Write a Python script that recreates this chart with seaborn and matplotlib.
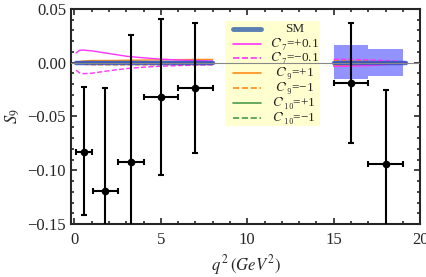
import numpy as np
import pandas as pd
import matplotlib
matplotlib.use("Agg")
import matplotlib.pyplot as plt
import seaborn as sns
from matplotlib.patches import Rectangle
from matplotlib.ticker import MultipleLocator

# --- data: experimental bins ---
q2_center = [0.55, 1.8, 3.25, 5.0, 7.0, 16.0, 18.0]
q2_half = [0.45, 0.7, 0.75, 1.0, 1.0, 1.0, 1.0]
s9_val = [-0.083, -0.119, -0.092, -0.032, -0.024, -0.019, -0.094]
s9_up = [0.060, 0.095, 0.118, 0.073, 0.061, 0.056, 0.069]
s9_dn = [0.059, 0.060, 0.060, 0.072, 0.060, 0.056, 0.060]

# --- SM binned prediction (boxes) ---
box_lo = [15.0, 17.0]
box_hi = [17.0, 19.0]
box_top = [0.016, 0.013]
box_bot = [-0.0155, -0.0125]

# --- theory curves, low q^2 ---
q2_low = [0.1, 0.3, 0.5, 1.0, 2.0, 3.0, 4.0, 5.0, 6.0, 7.0, 8.0]
sm_low = [0.0, 0.0, 0.0, 0.0, 0.0, 0.0, 0.0, 0.0, 0.0, 0.0, 0.0]
c7p_low = [0.009, 0.0115, 0.0117, 0.0110, 0.0085, 0.0060, 0.0045, 0.0033, 0.0025, 0.0020, 0.0015]
c7m_low = [-0.007, -0.0095, -0.0102, -0.0098, -0.0075, -0.0055, -0.0042, -0.0033, -0.0027, -0.0022, -0.0018]
c9p_low = [0.0005, 0.001, 0.0015, 0.002, 0.002, 0.0022, 0.0024, 0.0026, 0.0028, 0.003, 0.003]
c9m_low = [-0.0005, -0.001, -0.0015, -0.002, -0.002, -0.002, -0.002, -0.002, -0.002, -0.002, -0.002]
c10p_low = [0.0002, 0.0003, 0.0004, 0.0005, 0.0005, 0.0005, 0.0005, 0.0005, 0.0005, 0.0005, 0.0005]
c10m_low = [-0.0002, -0.0003, -0.0004, -0.0005, -0.0005, -0.0005, -0.0005, -0.0005, -0.0005, -0.0005, -0.0005]

# --- theory curves, high q^2 ---
q2_high = [15.0, 16.0, 17.0, 18.0, 18.7, 19.2]
sm_high = [0.0, 0.0, 0.0, 0.0, 0.0, 0.0]
c7p_high = [-0.0035, -0.0032, -0.0027, -0.0019, -0.0011, 0.0]
c7m_high = [0.0032, 0.0030, 0.0026, 0.0019, 0.0011, 0.0]
c9p_high = [-0.0025, -0.0023, -0.0019, -0.0013, -0.0008, 0.0]
c9m_high = [0.0022, 0.0020, 0.0017, 0.0012, 0.0007, 0.0]
c10p_high = [0.0003, 0.0003, 0.0002, 0.0002, 0.0001, 0.0]
c10m_high = [-0.0003, -0.0003, -0.0002, -0.0002, -0.0001, 0.0]

legend_labels = ['SM', "$C$\u2032\u2087=+0.1", "$C$\u2032\u2087=\u22120.1",
                 "$C$\u2032\u2089=+1", "$C$\u2032\u2089=\u22121",
                 "$C$\u2032\u2081\u2080=+1", "$C$\u2032\u2081\u2080=\u22121"]

sns.set_style("ticks")
plt.rcParams['font.family'] = ['Liberation Serif', 'DejaVu Serif']
plt.rcParams['mathtext.fontset'] = 'stix'

fig = plt.figure(figsize=(4.27, 2.77), dpi=100)
ax = fig.add_axes([0.166, 0.191, 0.818, 0.777])

# SM boxes
for lo, hi, top, bot in zip(box_lo, box_hi, box_top, box_bot):
    ax.fill_between([lo, hi], [bot, bot], [top, top], color='#6a6aff', alpha=0.72,
                    linewidth=0, zorder=1)

MAG, ORA, GRN, SMC = '#ff33ff', '#ff8c1a', '#4a9a4a', '#3050c8'
curves = [
    (c10p_low, c10p_high, GRN, '-'),
    (c10m_low, c10m_high, GRN, '--'),
    (c9p_low, c9p_high, ORA, '-'),
    (c9m_low, c9m_high, ORA, '--'),
    (c7p_low, c7p_high, MAG, '-'),
    (c7m_low, c7m_high, MAG, '--'),
]
for lo_vals, hi_vals, col, ls in curves:
    sns.lineplot(x=q2_low, y=lo_vals, ax=ax, color=col, linestyle=ls, linewidth=1.0, zorder=2)
    sns.lineplot(x=q2_high, y=hi_vals, ax=ax, color=col, linestyle=ls, linewidth=1.0, zorder=2)

sns.lineplot(x=q2_low, y=sm_low, ax=ax, color=SMC, linewidth=3.2, alpha=0.85, zorder=3)
sns.lineplot(x=q2_high, y=sm_high, ax=ax, color=SMC, linewidth=3.2, alpha=0.85, zorder=3)

ax.axhline(0, color='#888888', linewidth=0.8, zorder=6)

ax.errorbar(q2_center, s9_val, xerr=q2_half, yerr=[s9_dn, s9_up], fmt='o', color='black',
            markersize=4.5, elinewidth=1.5, capsize=2.5, capthick=1.5, zorder=7)

ax.set_xlim(-0.2, 20)
ax.set_ylim(-0.15, 0.05)
ax.xaxis.set_major_locator(MultipleLocator(5))
ax.xaxis.set_minor_locator(MultipleLocator(1))
ax.yaxis.set_major_locator(MultipleLocator(0.05))
ax.yaxis.set_minor_locator(MultipleLocator(0.01))
ax.yaxis.set_major_formatter(matplotlib.ticker.FuncFormatter(
    lambda v, p: ('%.2f' % v).replace('-', '\u2212')))
ax.tick_params(which='both', direction='in', top=True, right=True, labelsize=12, width=1.2)
ax.tick_params(which='major', length=4)
ax.tick_params(which='minor', length=2)
ax.tick_params(axis='x', pad=6)
for s in ax.spines.values():
    s.set_linewidth(1.5)

ax.set_xlabel(r'$q^{\,2}\,(GeV^2)$', fontsize=12, labelpad=3)
ax.set_ylabel(r'$S_9$', fontsize=12)

# legend box drawn by hand (tight row spacing like the original)
ax.add_patch(Rectangle((0.441, 0.456), 0.272, 0.488, transform=ax.transAxes,
                       facecolor='#ffffd0', edgecolor='none', zorder=4))
leg_styles = [(SMC, '-', 3.5), (MAG, '-', 1.2), (MAG, '--', 1.2), (ORA, '-', 1.2),
              (ORA, '--', 1.2), (GRN, '-', 1.2), (GRN, '--', 1.2)]
row_y = [0.908, 0.839, 0.770, 0.701, 0.632, 0.563, 0.494]
for (col, ls, lw), lab, yy in zip(leg_styles, legend_labels, row_y):
    c = '#5b7fb5' if lab == 'SM' else col
    ax.plot([0.463, 0.545], [yy, yy], transform=ax.transAxes, color=c, linestyle=ls,
            linewidth=lw, zorder=5)
    ax.text(0.64, yy, lab, transform=ax.transAxes, ha='center', va='center',
            fontsize=9.5, zorder=5)

fig.savefig('out.png', dpi=100)
